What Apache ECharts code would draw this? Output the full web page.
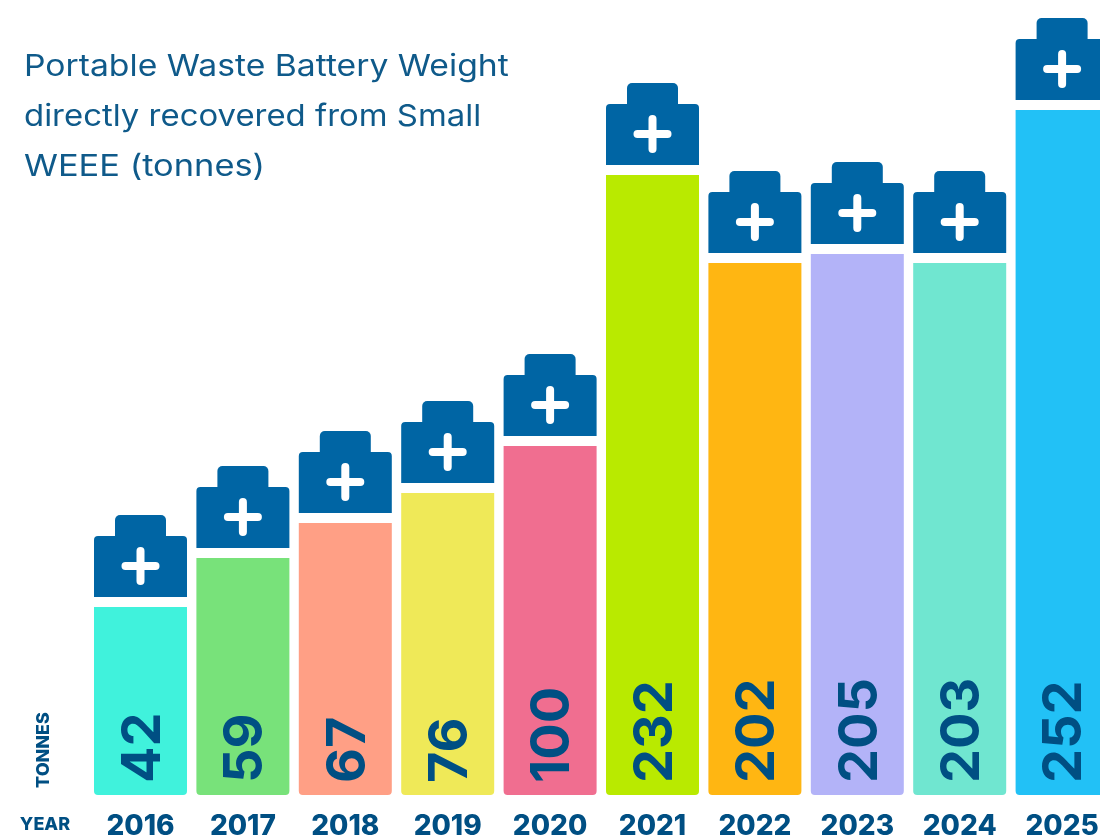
<!DOCTYPE html>
<html><head><meta charset="utf-8">
<style>html,body{margin:0;padding:0;background:#fff}#c{width:1100px;height:838px}</style>
<script src="https://cdn.jsdelivr.net/npm/echarts@6/dist/echarts.min.js"></script>
</head><body><div id="c"></div>
<script>
const years = ['2016','2017','2018','2019','2020','2021','2022','2023','2024','2025'];
// The printed tonnages
const tonnes = [42,59,67,76,100,232,202,205,203,252];
// The source graphic is not drawn to scale: these are the bar heights as drawn
const drawnHeights = [188,237,272,302,349,620,532,541,532,685];
const barColors = ['#40F2DC','#78E27A','#FF9F85','#EFE958','#F06E90','#B9EA00','#FFB612','#B3B3F8','#70E6D0','#22C1F6'];
const titleLines = ['Portable Waste Battery Weight','directly recovered from Small','WEEE (tonnes)'];
const titleStretch = [1.123,1.097,1.147];

const INK = '#004F83', BATTERY = '#0065A4', FONT = 'Inter, "Open Sans", sans-serif';
const chart = echarts.init(document.getElementById('c'), null, {renderer:'canvas'});

function renderBattery(params, api){
  const p = api.coord([api.value(0), api.value(1)]);
  const w = 93, gap = 10, bodyH = 61, capH = 21, capW = 51;
  const cx = p[0], bottom = p[1] - gap, bodyTop = bottom - bodyH, capTop = bodyTop - capH;
  const plusY = bodyTop + 30, arm = 19, t = 8;
  const fill = {fill: BATTERY};
  const white = {fill: '#fff'};
  return {type:'group', silent:true, children:[
    {type:'rect', shape:{x:cx-capW/2, y:capTop, width:capW, height:capH+4, r:[5,5,0,0]}, style:fill},
    {type:'rect', shape:{x:cx-w/2, y:bodyTop, width:w, height:bodyH, r:[4,4,0,0]}, style:fill},
    {type:'rect', shape:{x:cx-arm, y:plusY-t/2, width:arm*2, height:t, r:t/2}, style:white},
    {type:'rect', shape:{x:cx-t/2, y:plusY-arm, width:t, height:arm*2, r:t/2}, style:white}
  ]};
}

chart.setOption({
  animation:false,
  backgroundColor:'#fff',
  grid:{left:89.3, width:1024, top:0, bottom:43, containLabel:false, outerBoundsMode:'none'},
  xAxis:{
    type:'category', data:years,
    axisLine:{show:false}, axisTick:{show:false},
    axisLabel:{interval:0, margin:18, hideOverlap:false, fontFamily:FONT, fontSize:28, fontWeight:800, color:INK}
  },
  yAxis:{type:'value', min:0, max:795, show:false, splitLine:{show:false}},
  series:[
    {
      type:'bar', barWidth:93, silent:true,
      data:drawnHeights.map((h,i)=>({value:h, itemStyle:{color:barColors[i], borderRadius:[0,0,4,4]}})),
      label:{
        show:true, position:'insideBottom', rotate:90, align:'left', verticalAlign:'middle', distance:11,
        offset:[1,3],
        formatter:p=>String(tonnes[p.dataIndex]),
        fontFamily:FONT, fontSize:54, fontWeight:700, color:INK
      }
    },
    {
      type:'custom', silent:true, coordinateSystem:'cartesian2d',
      renderItem:renderBattery,
      data:drawnHeights.map((h,i)=>[i,h])
    }
  ],
  graphic:[
    ...titleLines.map((line,i)=>({type:'text', x:24, y:67+50*i, scaleX:titleStretch[i], silent:true,
      style:{text:line, fill:'#0F5A8A', font:'400 30px '+FONT, align:'left', verticalAlign:'middle'}})),
    {type:'text', x:44, y:750, rotation:Math.PI/2, silent:true,
      style:{text:'TONNES', fill:INK, font:'800 18px '+FONT, align:'center', verticalAlign:'middle'}},
    {type:'text', x:45, y:825, silent:true,
      style:{text:'YEAR', fill:INK, font:'800 18px '+FONT, align:'center', verticalAlign:'middle'}}
  ]
});
</script></body></html>
